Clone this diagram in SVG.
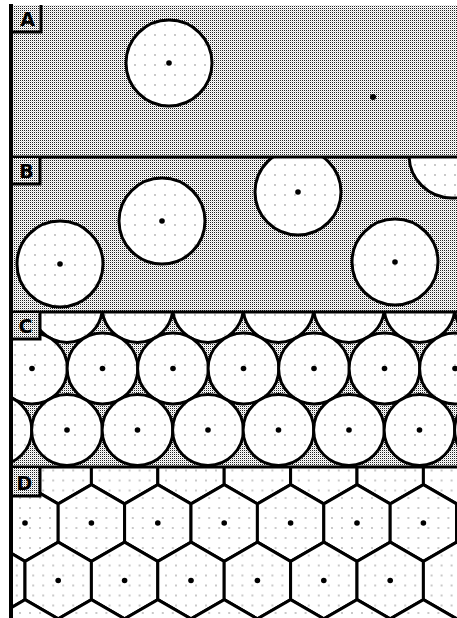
<svg xmlns="http://www.w3.org/2000/svg" xmlns:xlink="http://www.w3.org/1999/xlink" width="457" height="618" viewBox="0 0 457 618">
<style>
.cell{fill:url(#grid);stroke:#000;stroke-width:3}
.ctr{fill:#000}
.sep{stroke:#000;stroke-width:3;fill:none}
.lbl{font-family:"DejaVu Sans","Liberation Sans",Arial,sans-serif;font-weight:bold;font-size:19px;fill:#000;text-anchor:middle}
.box{fill:url(#tex);stroke:none}
</style>
<defs>
<pattern id="tex" width="2" height="2" patternUnits="userSpaceOnUse">
<rect width="2" height="2" fill="#fff"/>
<rect x="0" y="0" width="1" height="1" fill="#222"/>
<rect x="1" y="1" width="1" height="1" fill="#d8d8d8"/>
</pattern>
<pattern id="grid" width="10" height="10" patternUnits="userSpaceOnUse">
<rect width="10" height="10" fill="#fff"/>
<circle cx="5" cy="5" r="0.65" fill="#666"/>
</pattern>
<polygon id="hex" points="0,-38.34 33.2,-19.17 33.2,19.17 0,38.34 -33.2,19.17 -33.2,-19.17"/>
<clipPath id="cA"><rect x="12" y="5" width="445" height="152"/></clipPath>
<clipPath id="cB"><rect x="12" y="157" width="445" height="155"/></clipPath>
<clipPath id="cC"><rect x="12" y="312" width="445" height="155"/></clipPath>
<clipPath id="cD"><rect x="12" y="467" width="445" height="151"/></clipPath>
</defs>
<rect width="457" height="618" fill="#fff"/>

<g id="panelA" clip-path="url(#cA)">
<rect x="12" y="5" width="445" height="152" fill="url(#tex)"/>
<g id="A-cell1"><circle class="cell" cx="169" cy="63" r="43"/><circle class="ctr" cx="169" cy="63" r="2.8"/></g>
<g id="A-seed2"><circle class="ctr" cx="373" cy="97" r="3"/></g>
</g>

<g id="panelB" clip-path="url(#cB)">
<rect x="12" y="157" width="445" height="155" fill="url(#tex)"/>
<g id="B-cell1"><circle class="cell" cx="60" cy="264" r="43"/><circle class="ctr" cx="60" cy="264" r="2.8"/></g>
<g id="B-cell2"><circle class="cell" cx="162" cy="221" r="43"/><circle class="ctr" cx="162" cy="221" r="2.8"/></g>
<g id="B-cell3"><circle class="cell" cx="298" cy="192" r="43"/><circle class="ctr" cx="298" cy="192" r="2.8"/></g>
<g id="B-cell4"><circle class="cell" cx="395" cy="262" r="43"/><circle class="ctr" cx="395" cy="262" r="2.8"/></g>
<g id="B-cell5"><circle class="cell" cx="452" cy="155" r="43"/></g>
</g>

<g id="panelC" clip-path="url(#cC)">
<rect x="12" y="312" width="445" height="155" fill="url(#tex)"/>
<g id="C-row0">
<circle class="cell" cx="-3.5" cy="307" r="35.4"/>
<circle class="cell" cx="67" cy="307" r="35.4"/>
<circle class="cell" cx="137.5" cy="307" r="35.4"/>
<circle class="cell" cx="208" cy="307" r="35.4"/>
<circle class="cell" cx="278.5" cy="307" r="35.4"/>
<circle class="cell" cx="349" cy="307" r="35.4"/>
<circle class="cell" cx="419.5" cy="307" r="35.4"/>
<circle class="cell" cx="490" cy="307" r="35.4"/>
</g>
<g id="C-row1">
<circle class="cell" cx="32" cy="368.5" r="35.4"/>
<circle class="cell" cx="102.5" cy="368.5" r="35.4"/>
<circle class="cell" cx="173" cy="368.5" r="35.4"/>
<circle class="cell" cx="243.5" cy="368.5" r="35.4"/>
<circle class="cell" cx="314" cy="368.5" r="35.4"/>
<circle class="cell" cx="384.5" cy="368.5" r="35.4"/>
<circle class="cell" cx="455" cy="368.5" r="35.4"/>
<circle class="ctr" cx="32" cy="368.5" r="2.8"/>
<circle class="ctr" cx="102.5" cy="368.5" r="2.8"/>
<circle class="ctr" cx="173" cy="368.5" r="2.8"/>
<circle class="ctr" cx="243.5" cy="368.5" r="2.8"/>
<circle class="ctr" cx="314" cy="368.5" r="2.8"/>
<circle class="ctr" cx="384.5" cy="368.5" r="2.8"/>
<circle class="ctr" cx="455" cy="368.5" r="2.8"/>
</g>
<g id="C-row2">
<circle class="cell" cx="-3.5" cy="430" r="35.4"/>
<circle class="cell" cx="67" cy="430" r="35.4"/>
<circle class="cell" cx="137.5" cy="430" r="35.4"/>
<circle class="cell" cx="208" cy="430" r="35.4"/>
<circle class="cell" cx="278.5" cy="430" r="35.4"/>
<circle class="cell" cx="349" cy="430" r="35.4"/>
<circle class="cell" cx="419.5" cy="430" r="35.4"/>
<circle class="cell" cx="490" cy="430" r="35.4"/>
<circle class="ctr" cx="67" cy="430" r="2.8"/>
<circle class="ctr" cx="137.5" cy="430" r="2.8"/>
<circle class="ctr" cx="208" cy="430" r="2.8"/>
<circle class="ctr" cx="278.5" cy="430" r="2.8"/>
<circle class="ctr" cx="349" cy="430" r="2.8"/>
<circle class="ctr" cx="419.5" cy="430" r="2.8"/>
</g>
</g>

<g id="panelD" clip-path="url(#cD)">
<rect x="12" y="467" width="445" height="151" fill="url(#grid)"/>
<g id="D-row0">
<use href="#hex" class="cell" x="-8.2" y="465.5"/>
<use href="#hex" class="cell" x="58.2" y="465.5"/>
<use href="#hex" class="cell" x="124.6" y="465.5"/>
<use href="#hex" class="cell" x="191" y="465.5"/>
<use href="#hex" class="cell" x="257.4" y="465.5"/>
<use href="#hex" class="cell" x="323.8" y="465.5"/>
<use href="#hex" class="cell" x="390.2" y="465.5"/>
<use href="#hex" class="cell" x="456.6" y="465.5"/>
</g>
<g id="D-row1">
<use href="#hex" class="cell" x="-41.4" y="523"/>
<use href="#hex" class="cell" x="25" y="523"/>
<use href="#hex" class="cell" x="91.4" y="523"/>
<use href="#hex" class="cell" x="157.8" y="523"/>
<use href="#hex" class="cell" x="224.2" y="523"/>
<use href="#hex" class="cell" x="290.6" y="523"/>
<use href="#hex" class="cell" x="357" y="523"/>
<use href="#hex" class="cell" x="423.4" y="523"/>
<use href="#hex" class="cell" x="489.8" y="523"/>
<circle class="ctr" cx="25" cy="523" r="2.8"/>
<circle class="ctr" cx="91.4" cy="523" r="2.8"/>
<circle class="ctr" cx="157.8" cy="523" r="2.8"/>
<circle class="ctr" cx="224.2" cy="523" r="2.8"/>
<circle class="ctr" cx="290.6" cy="523" r="2.8"/>
<circle class="ctr" cx="357" cy="523" r="2.8"/>
<circle class="ctr" cx="423.4" cy="523" r="2.8"/>
</g>
<g id="D-row2">
<use href="#hex" class="cell" x="-8.2" y="580.5"/>
<use href="#hex" class="cell" x="58.2" y="580.5"/>
<use href="#hex" class="cell" x="124.6" y="580.5"/>
<use href="#hex" class="cell" x="191" y="580.5"/>
<use href="#hex" class="cell" x="257.4" y="580.5"/>
<use href="#hex" class="cell" x="323.8" y="580.5"/>
<use href="#hex" class="cell" x="390.2" y="580.5"/>
<use href="#hex" class="cell" x="456.6" y="580.5"/>
<circle class="ctr" cx="58.2" cy="580.5" r="2.8"/>
<circle class="ctr" cx="124.6" cy="580.5" r="2.8"/>
<circle class="ctr" cx="191" cy="580.5" r="2.8"/>
<circle class="ctr" cx="257.4" cy="580.5" r="2.8"/>
<circle class="ctr" cx="323.8" cy="580.5" r="2.8"/>
<circle class="ctr" cx="390.2" cy="580.5" r="2.8"/>
</g>
<g id="D-row3">
<use href="#hex" class="cell" x="-41.4" y="638"/>
<use href="#hex" class="cell" x="25" y="638"/>
<use href="#hex" class="cell" x="91.4" y="638"/>
<use href="#hex" class="cell" x="157.8" y="638"/>
<use href="#hex" class="cell" x="224.2" y="638"/>
<use href="#hex" class="cell" x="290.6" y="638"/>
<use href="#hex" class="cell" x="357" y="638"/>
<use href="#hex" class="cell" x="423.4" y="638"/>
<use href="#hex" class="cell" x="489.8" y="638"/>
</g>
</g>

<g id="separators">
<line class="sep" x1="10" y1="157" x2="457" y2="157"/>
<line class="sep" x1="10" y1="312" x2="457" y2="312"/>
<line class="sep" x1="10" y1="467" x2="457" y2="467"/>
</g>

<g id="labelA">
<rect class="box" x="12" y="5" width="29" height="27"/>
<path class="sep" d="M41,5 V32 H12"/>
<text class="lbl" x="27.5" y="26">A</text>
</g>
<g id="labelB">
<rect class="box" x="12" y="158" width="28" height="26"/>
<path class="sep" d="M40,157 V184 H12"/>
<text class="lbl" x="26.5" y="178">B</text>
</g>
<g id="labelC">
<rect class="box" x="12" y="313" width="28" height="26"/>
<path class="sep" d="M40,312 V339 H12"/>
<text class="lbl" x="25.5" y="333">C</text>
</g>
<g id="labelD">
<rect class="box" x="12" y="468" width="28" height="28"/>
<path class="sep" d="M40,467 V496 H12"/>
<text class="lbl" x="24.5" y="490">D</text>
</g>

<line id="leftBorder" x1="11" y1="4" x2="11" y2="618" stroke="#000" stroke-width="4"/>
</svg>
